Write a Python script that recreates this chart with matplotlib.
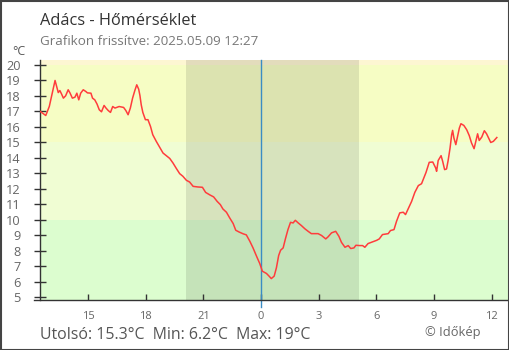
# Adács - hőmérséklet grafikon (Időkép stílus)

import pandas as pd
import matplotlib.pyplot as plt
import matplotlib.dates as mdates
from matplotlib.patches import Rectangle

plt.rcParams['font.family'] = ['Open Sans', 'DejaVu Sans']

# --------------------------
# Adatok
# --------------------------

# 2025.05.08 délután / este
ido_08 = ['12:31', '12:48', '12:59', '13:06', '13:14', '13:17', '13:22', '13:27', '13:32', '13:37',
          '13:43', '13:50', '13:58', '14:04', '14:11', '14:19', '14:25', '14:31', '14:37', '14:45',
          '14:53', '14:58', '15:09', '15:14', '15:21', '15:28', '15:35', '15:42', '15:50', '15:56',
          '16:03', '16:10', '16:17', '16:24', '16:37', '16:51', '16:58', '17:05', '17:12', '17:19',
          '17:26', '17:32', '17:38', '17:42', '17:46', '17:51', '17:59', '18:07', '18:15', '18:22',
          '18:33', '18:43', '18:54', '19:04', '19:15', '19:25', '19:36', '19:46', '19:56', '20:07',
          '20:17', '20:28', '20:43', '20:57', '21:07', '21:20', '21:32', '21:43', '21:53', '22:01',
          '22:12', '22:22', '22:33', '22:41', '22:51', '23:04', '23:14', '23:25', '23:35', '23:46',
          '23:56']
homerseklet_08 = [16.98, 16.72, 17.3, 17.95, 18.7, 18.98, 18.6, 18.2, 18.33, 18.12,
                  17.84, 17.99, 18.38, 18.16, 17.84, 17.9, 18.16, 17.73, 18.16, 18.38,
                  18.27, 18.18, 18.16, 17.84, 17.73, 17.46, 17.09, 16.96, 17.37, 17.2,
                  17.04, 16.92, 17.3, 17.2, 17.3, 17.24, 17.04, 16.77, 17.2, 17.84,
                  18.33, 18.7, 18.42, 18.0, 17.41, 16.92, 16.45, 16.45, 16.01, 15.48,
                  15.05, 14.69, 14.3, 14.13, 13.95, 13.66, 13.29, 12.97, 12.8, 12.54,
                  12.43, 12.15, 12.11, 12.09, 11.76, 11.6, 11.47, 11.18, 10.97, 10.69,
                  10.48, 10.12, 9.75, 9.32, 9.21, 9.09, 9.02, 8.61, 8.18, 7.64,
                  7.17]

# 2025.05.09 éjjel / délelőtt
ido_09 = ['00:04', '00:17', '00:25', '00:32', '00:41', '00:48', '00:55', '01:01', '01:09', '01:16',
          '01:24', '01:32', '01:40', '01:47', '01:56', '02:06', '02:17', '02:27', '02:37', '02:48',
          '02:58', '03:09', '03:22', '03:29', '03:40', '03:53', '04:03', '04:11', '04:22', '04:32',
          '04:40', '04:50', '04:56', '05:08', '05:17', '05:24', '05:34', '05:48', '06:01', '06:09',
          '06:19', '06:37', '06:44', '06:55', '07:03', '07:13', '07:24', '07:31', '07:39', '07:50',
          '08:00', '08:11', '08:21', '08:28', '08:35', '08:45', '08:56', '09:05', '09:08', '09:13',
          '09:22', '09:27', '09:33', '09:39', '09:44', '09:50', '09:55', '09:58', '10:02', '10:08',
          '10:13', '10:19', '10:24', '10:33', '10:42', '10:50', '10:57', '11:05', '11:11', '11:16',
          '11:21', '11:29', '11:37', '11:44', '11:57', '12:05', '12:16']
homerseklet_09 = [6.68, 6.53, 6.36, 6.2, 6.36, 6.9, 7.69, 8.03, 8.18, 8.76,
                  9.36, 9.83, 9.79, 9.96, 9.79, 9.62, 9.41, 9.25, 9.1, 9.1,
                  9.1, 8.98, 8.76, 8.89, 9.15, 9.25, 8.93, 8.54, 8.22, 8.33,
                  8.14, 8.18, 8.35, 8.33, 8.33, 8.22, 8.46, 8.57, 8.67, 8.76,
                  9.04, 9.1, 9.3, 9.36, 9.9, 10.44, 10.48, 10.33, 10.69, 11.18,
                  11.76, 12.2, 12.32, 12.69, 13.05, 13.7, 13.72, 13.34, 13.12, 13.82,
                  14.13, 13.76, 13.23, 13.27, 13.82, 14.62, 15.48, 15.76, 15.27, 14.84,
                  15.33, 15.91, 16.19, 16.08, 15.8, 15.42, 14.95, 14.58, 15.11, 15.54,
                  15.11, 15.33, 15.74, 15.54, 14.98, 15.05, 15.3]

# Tengelyek, sávok
y_ticks = list(range(5, 21))
x_tick_orak = ['2025-05-08 15:00', '2025-05-08 18:00', '2025-05-08 21:00', '2025-05-09 00:00',
               '2025-05-09 03:00', '2025-05-09 06:00', '2025-05-09 09:00', '2025-05-09 12:00']
x_tick_cimkek = ['15', '18', '21', '0', '3', '6', '9', '12']
x_kezdet, x_veg = '2025-05-08 12:30', '2025-05-09 12:54'
ejszaka = ('2025-05-08 20:06', '2025-05-09 05:06')
sav_hatarok = [(-5, 10, '#dcfdcf'), (10, 15, '#f0fdd3'), (15, 20, '#f6fdc4'), (20, 30, '#fdf6d2')]

# --------------------------
# Grafikon
# --------------------------

idopontok = pd.to_datetime(['2025-05-08 ' + t for t in ido_08] + ['2025-05-09 ' + t for t in ido_09])
ertekek = homerseklet_08 + homerseklet_09

fig = plt.figure(figsize=(5.1, 3.5), dpi=100)
W, H = 510, 350
ax = fig.add_axes([40 / W, 50 / H, 469 / W, 240 / H])

for also, felso, szin in sav_hatarok:
    ax.axhspan(also, felso, color=szin, lw=0, zorder=0)
ax.axvspan(pd.Timestamp(ejszaka[0]), pd.Timestamp(ejszaka[1]), color='black', alpha=0.1, lw=0, zorder=1)
ax.axvline(pd.Timestamp('2025-05-09 00:00'), ymin=-0.03, color='#3a8cc4', lw=1, zorder=2, clip_on=False)

ax.plot(idopontok, ertekek, color='#ff3c3c', lw=1.1, zorder=3)

ax.set_xlim(pd.Timestamp(x_kezdet), pd.Timestamp(x_veg))
ax.set_ylim(4.82, 20.3)
ax.set_yticks(y_ticks)
ax.set_yticklabels([str(v) for v in y_ticks], fontsize=9.2, color='#666666')
ax.set_xticks(pd.to_datetime(x_tick_orak))
ax.set_xticklabels(x_tick_cimkek, fontsize=8, color='#666666')
ax.tick_params(axis='y', direction='inout', length=8.6, width=1, color='#333333', pad=9.5)
ax.tick_params(axis='x', direction='in', length=4.3, width=1, color='#333333', pad=8)

for s in ['top', 'right']:
    ax.spines[s].set_visible(False)
for s in ['left', 'bottom']:
    ax.spines[s].set_color('#333333')
    ax.spines[s].set_linewidth(1)
ax.spines['bottom'].set_bounds(mdates.date2num(pd.Timestamp('2025-05-08 12:12')),
                               mdates.date2num(pd.Timestamp(x_veg)))

# Szövegek
fig.text(40 / W, 1 - 25 / H, 'Adács - Hőmérséklet', fontsize=11.8, color='#333333')
fig.text(40 / W, 1 - 45 / H, 'Grafikon frissítve: 2025.05.09 12:27', fontsize=9.6, color='#777777')
fig.text(12 / W, 1 - 55 / H, '°C', fontsize=9, color='#555555')
fig.text(40 / W, 1 - 339 / H, 'Utolsó: 15.3°C  Min: 6.2°C  Max: 19°C', fontsize=11.4, color='#555555')
fig.text(425 / W, 1 - 336 / H, '© Időkép', fontsize=9.3, color='#666666')

# Keret
fig.patches.append(Rectangle((0.5 / W, 0.5 / H), 1 - 1.5 / W, 1 - 1.5 / H, transform=fig.transFigure,
                             fill=False, edgecolor='#444444', lw=1.5))

fig.savefig('out.png', dpi=100)
